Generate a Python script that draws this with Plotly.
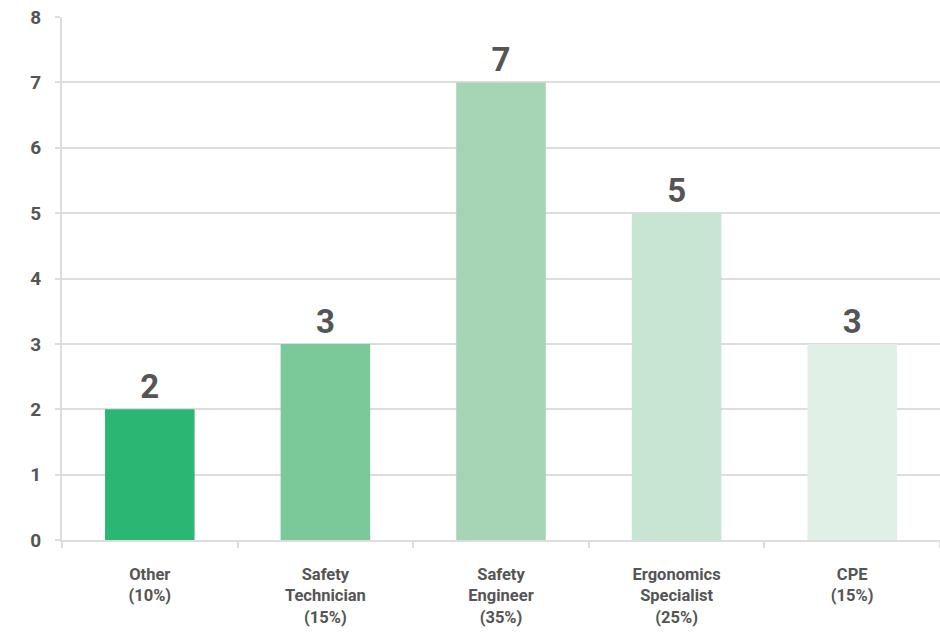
import plotly.graph_objects as go

categories = ["Other<br>(10%)", "Safety<br>Technician<br>(15%)", "Safety<br>Engineer<br>(35%)",
              "Ergonomics<br>Specialist<br>(25%)", "CPE<br>(15%)"]
values = [2, 3, 7, 5, 3]
colors = ["#2bb673", "#7bc899", "#a5d5b5", "#c6e5d3", "#e1f0e6"]
y_ticks = [0, 1, 2, 3, 4, 5, 6, 7, 8]

fig = go.Figure(go.Bar(
    x=categories, y=values,
    marker=dict(color=colors, line=dict(width=0)),
    text=values, textposition="outside",
    textfont=dict(family="Roboto", size=33, color="#555555", weight="bold"),
    cliponaxis=False,
))

fig.update_layout(
    width=940, height=635,
    margin=dict(l=62, r=0, t=17, b=95),
    paper_bgcolor="white", plot_bgcolor="white",
    bargap=0.49,
    showlegend=False,
    xaxis=dict(
        showline=True, linecolor="#dddddd", linewidth=2,
        ticks="outside", tickson="boundaries", ticklen=6, tickcolor="#dddddd", tickwidth=2,
        tickfont=dict(family="Roboto", size=16.5, color="#555555", weight="bold"),
        ticklabelstandoff=18,
        showgrid=False,
    ),
    yaxis=dict(
        range=[0, 8], tickvals=y_ticks,
        showline=True, linecolor="#dddddd", linewidth=2,
        showgrid=True, gridcolor="#dddddd", gridwidth=2,
        ticks="outside", ticklen=5, tickcolor="#dddddd", tickwidth=2,
        tickfont=dict(family="Roboto", size=19, color="#555555", weight="bold"),
        ticklabelstandoff=10,
        zeroline=False,
    ),
)

fig.write_html("out.html")
